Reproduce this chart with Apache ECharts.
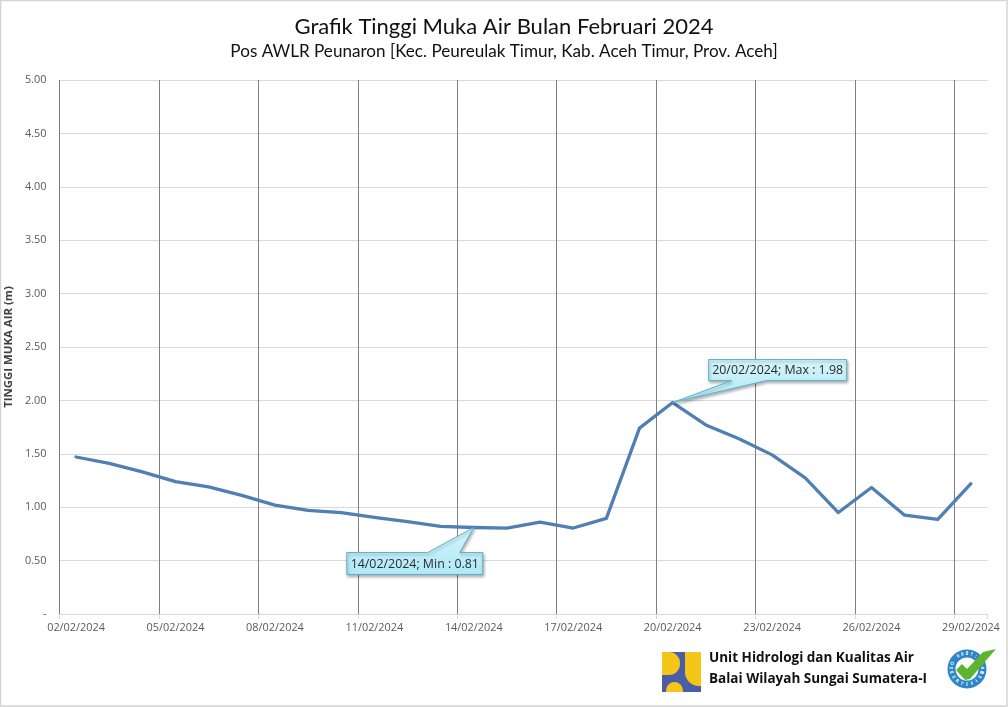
<!DOCTYPE html>
<html><head><meta charset="utf-8">
<style>html,body{margin:0;padding:0;background:#fff}#c{width:1008px;height:707px}</style>
<script src="https://cdn.jsdelivr.net/npm/echarts@6/dist/echarts.min.js"></script>
</head><body><div id="c"></div>
<script>
const titleText = 'Grafik Tinggi Muka Air Bulan Februari 2024';
const subtitleText = 'Pos AWLR Peunaron [Kec. Peureulak Timur, Kab. Aceh Timur, Prov. Aceh]';
const dates = ['02/02/2024','03/02/2024','04/02/2024','05/02/2024','06/02/2024','07/02/2024','08/02/2024','09/02/2024','10/02/2024','11/02/2024','12/02/2024','13/02/2024','14/02/2024','15/02/2024','16/02/2024','17/02/2024','18/02/2024','19/02/2024','20/02/2024','21/02/2024','22/02/2024','23/02/2024','24/02/2024','25/02/2024','26/02/2024','27/02/2024','28/02/2024','29/02/2024'];
const levels = [1.47,1.41,1.33,1.24,1.19,1.11,1.02,0.97,0.95,0.905,0.865,0.82,0.81,0.805,0.86,0.805,0.895,1.74,1.98,1.77,1.64,1.49,1.275,0.95,1.185,0.925,0.885,1.22];
const minIndex = 12, maxIndex = 18;
const calloutLabels = ['14/02/2024; Min : 0.81','20/02/2024; Max : 1.98'];
const orgLines = ['Unit Hidrologi dan Kualitas Air','Balai Wilayah Sungai Sumatera-I'];
const badgeTop = 'ISO 9001:2008';
const badgeBottom = 'CERTIFIED';

const chart = echarts.init(document.getElementById('c'), null, {renderer:'canvas'});

function callout(params, api){
  const i = params.dataIndex;
  const p = api.coord([api.value(0), api.value(1)]);
  const px = p[0], py = p[1];
  const isMin = i === 0;
  const b = isMin ? {l:-127,r:9,t:25,h:22,b1:-46,b2:-14}
                  : {l:36,r:174,t:-43,h:21,b1:59,b2:94};
  const L=px+b.l,R=px+b.r,T=py+b.t,B=T+b.h;
  const pts = isMin
    ? [[L,T],[px+b.b1,T],[px,py],[px+b.b2,T],[R,T],[R,B],[L,B]]
    : [[L,T],[R,T],[R,B],[px+b.b2,B],[px,py],[px+b.b1,B],[L,B]];
  return {type:'group',children:[
    {type:'polygon',shape:{points:pts},style:{
      fill:new echarts.graphic.LinearGradient(0,0,0,1,[{offset:0,color:'#d6f5fc'},{offset:1,color:'#aee8f8'}]),
      stroke:'#5fb3c4',lineWidth:1,shadowColor:'rgba(0,0,0,0.3)',shadowBlur:3,shadowOffsetX:1,shadowOffsetY:2}},
    {type:'text',style:{x:(L+R)/2,y:(T+B)/2+0.5,text:calloutLabels[i],align:'center',verticalAlign:'middle',
      font:'12.4px "Open Sans"',fill:'#2b2b2b'}}
  ]};
}

function arcText(str, radius, step, bottom){
  const n = str.length;
  return str.split('').map((ch,k)=>{
    const t = (k-(n-1)/2)*step;
    return {type:'text',x:radius*Math.sin(t),y:(bottom?1:-1)*radius*Math.cos(t),rotation:bottom?t:-t,
      style:{text:ch,align:'center',verticalAlign:'middle',font:'bold 4.5px "Open Sans"',fill:'#fff'}};
  });
}

chart.setOption({
  animation:false,
  backgroundColor:'#fff',
  title:[
    {text:titleText,left:499,top:11,textAlign:'center',textStyle:{fontFamily:'Lato',fontSize:22,fontWeight:'normal',color:'#111'}},
    {text:subtitleText,left:499,top:38,textAlign:'center',textStyle:{fontFamily:'Lato',fontSize:17.1,fontWeight:'normal',color:'#111'}}
  ],
  grid:{left:59.5,top:80,width:928,height:534,containLabel:false,outerBoundsMode:'none'},
  xAxis:{type:'category',data:dates,boundaryGap:true,
    axisLine:{show:true,lineStyle:{color:'#d9d9d9',width:1}},
    axisTick:{show:true,interval:2,length:5,lineStyle:{color:'#d9d9d9'}},
    splitLine:{show:true,interval:2,showMaxLine:false,lineStyle:{color:'#7f7f7f',width:1}},
    axisLabel:{interval:2,hideOverlap:false,margin:8,fontFamily:'Open Sans',fontSize:10.9,color:'#595959'}},
  yAxis:{type:'value',min:0,max:5,interval:0.5,
    name:'TINGGI MUKA AIR (m)',nameLocation:'middle',nameGap:36,nameRotate:90,
    nameTextStyle:{fontFamily:'Open Sans',fontSize:11.4,fontWeight:'bold',color:'#404040'},
    axisLine:{show:false},axisTick:{show:false},
    splitLine:{show:true,lineStyle:{color:'#d9d9d9',width:1}},
    axisLabel:{margin:13,fontFamily:'Open Sans',fontSize:10.9,color:'#595959',
      formatter:v=>v===0?'-':v.toFixed(2)}},
  series:[
    {type:'line',data:levels,symbol:'none',smooth:false,lineStyle:{color:'#4f7fb3',width:3.3,cap:'round',join:'round'},z:5},
    {type:'custom',renderItem:callout,z:6,silent:true,clip:false,
      data:[[minIndex,levels[minIndex]],[maxIndex,levels[maxIndex]]],encode:{x:0,y:1}}
  ],
  graphic:[
    {type:'rect',silent:true,z:-1,shape:{x:0.5,y:0.5,width:1006.5,height:705.5},style:{fill:'none',stroke:'#d4d4d4',lineWidth:1.5}},
    {type:'group',x:662,y:652,children:[
      {type:'rect',shape:{x:0,y:0,width:39,height:40},style:{fill:'#4a5ea8'}},
      {type:'rect',shape:{x:0,y:0,width:18,height:23,r:[0,11,11,0]},style:{fill:'#f5c518'}},
      {type:'rect',shape:{x:23,y:0,width:16,height:34,r:[0,0,0,14]},style:{fill:'#f5c518'}},
      {type:'rect',shape:{x:4,y:30,width:17,height:10,r:[9,9,0,0]},style:{fill:'#f5c518'}}
    ]},
    {type:'text',x:709,y:651,style:{text:orgLines[0],font:'bold 13.5px "Open Sans"',fill:'#111'}},
    {type:'text',x:709,y:672,style:{text:orgLines[1],font:'bold 13.5px "Open Sans"',fill:'#111'}},
    {type:'group',x:967,y:669,children:[
      {type:'ring',shape:{cx:0,cy:0,r:19.5,r0:11.5},style:{fill:'#2e86c8'}},
      ...arcText(badgeTop,15.5,0.3,false),
      ...arcText(badgeBottom,15.5,0.34,true),
      {type:'polygon',shape:{points:[[-11,1],[-5,-5],[0,0],[16,-17],[29,-20],[3,10],[-2,11]]},style:{fill:'#5cb531'}}
    ]}
  ]
});
</script></body></html>
